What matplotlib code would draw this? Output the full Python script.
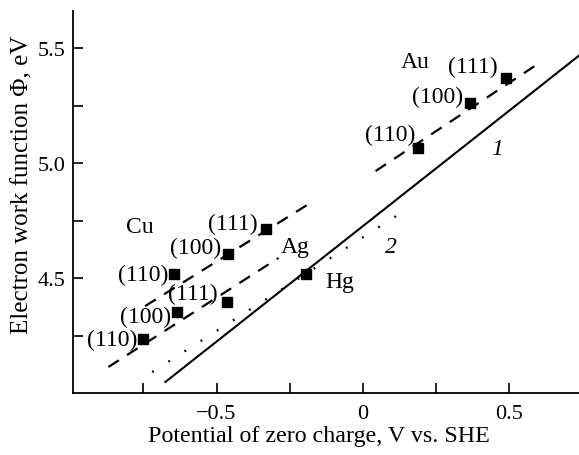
import numpy as np
import matplotlib
matplotlib.use('Agg')
from matplotlib import pyplot as plt
from matplotlib.ticker import FixedLocator, FuncFormatter

plt.rcParams['font.family'] = ['Liberation Serif', 'DejaVu Serif']
plt.rcParams['lines.scale_dashes'] = False

# data points (potential of zero charge, work function)
cu_x = [-0.645, -0.462, -0.330]
cu_y = [4.517, 4.604, 4.713]
ag_x = [-0.751, -0.635, -0.463]
ag_y = [4.235, 4.352, 4.396]
au_x = [0.190, 0.366, 0.489]
au_y = [5.065, 5.261, 5.370]
hg_x = [-0.193]
hg_y = [4.517]
faces = ['(110)', '(100)', '(111)']

# fitted lines, end points
line1_x = [-0.675, 0.74]
line1_y = [4.048, 5.467]
line2_x = [-0.72, 0.136]
line2_y = [4.091, 4.787]
cu_line_x = [-0.744, -0.168]
cu_line_y = [4.378, 4.835]
ag_line_x = [-0.870, -0.288]
ag_line_y = [4.113, 4.587]
au_line_x = [0.044, 0.609]
au_line_y = [4.965, 5.439]

fs = 17          # labels in the plot
fs_tick = 16
fig = plt.figure(figsize=(5.79, 4.56), dpi=100)
ax = fig.add_axes([72.7 / 579, 1 - 394 / 456, 1 - 72.7 / 579, (394 - 12) / 456])

dash = (0, (9, 7))
ax.plot(line1_x, line1_y, '-', color='black', lw=1.5)
ax.plot(line2_x, line2_y, color='black', lw=1.7, linestyle=(0, (1.3, 12.5)))
ax.plot(cu_line_x, cu_line_y, color='black', lw=1.6, linestyle=dash)
ax.plot(ag_line_x, ag_line_y, color='black', lw=1.6, linestyle=dash)
ax.plot(au_line_x, au_line_y, color='black', lw=1.6, linestyle=dash)

for xs, ys in [(cu_x, cu_y), (ag_x, ag_y), (au_x, au_y), (hg_x, hg_y)]:
    ax.plot(xs, ys, 's', color='black', markersize=7.5, zorder=5)

# face labels, offsets in points from the marker
cu_off = [(-4, 0), (-5, 5), (-6, 4)]
ag_off = [(-4, 0), (-4, -3), (-7, 6)]
au_off = [(-2, 10), (-5, 5), (-6, 8)]
for xs, ys, offs in [(cu_x, cu_y, cu_off), (ag_x, ag_y, ag_off), (au_x, au_y, au_off)]:
    for x, y, f, o in zip(xs, ys, faces, offs):
        ax.annotate(f, (x, y), xytext=o, textcoords='offset points',
                    ha='right', va='center', fontsize=fs)

ax.text(0.181, 5.443, 'Au', ha='center', va='center', fontsize=fs)
ax.text(-0.761, 4.726, 'Cu', ha='center', va='center', fontsize=fs)
ax.text(-0.231, 4.635, 'Ag', ha='center', va='center', fontsize=fs)
ax.text(-0.077, 4.483, 'Hg', ha='center', va='center', fontsize=fs)
ax.text(0.461, 5.061, '1', ha='center', va='center', fontsize=fs, style='italic')
ax.text(0.095, 4.635, '2', ha='center', va='center', fontsize=fs, style='italic')

ax.set_xlim(-0.992, 0.74)
ax.set_ylim(4.0, 5.661)
ax.spines['top'].set_visible(False)
ax.spines['right'].set_visible(False)
for s in ['left', 'bottom']:
    ax.spines[s].set_linewidth(1.3)

ax.xaxis.set_major_locator(FixedLocator([-0.5, 0, 0.5]))
ax.xaxis.set_minor_locator(FixedLocator([-0.75, -0.25, 0.25]))
ax.yaxis.set_major_locator(FixedLocator([4.5, 5.0, 5.5]))
ax.yaxis.set_minor_locator(FixedLocator([4.25, 4.75, 5.25]))
ax.xaxis.set_major_formatter(FuncFormatter(lambda v, p: '0' if v == 0 else f'{v:g}'.replace('-', '\u2212')))
ax.yaxis.set_major_formatter(FuncFormatter(lambda v, p: f'{v:.1f}'))
ax.tick_params(which='both', direction='in', length=7, width=1.2, labelsize=fs_tick)
ax.tick_params(axis='x', which='both', pad=8)
ax.tick_params(axis='y', which='both', pad=5)

fig.text(22 / 579, 1 - 185 / 456, 'Electron work function \u03a6, eV', rotation=90,
         ha='center', va='center', fontsize=18)
fig.text(319 / 579, 1 - 437 / 456, 'Potential of zero charge, V vs. SHE',
         ha='center', va='center', fontsize=17.3)

plt.savefig('out.png', dpi=100)
